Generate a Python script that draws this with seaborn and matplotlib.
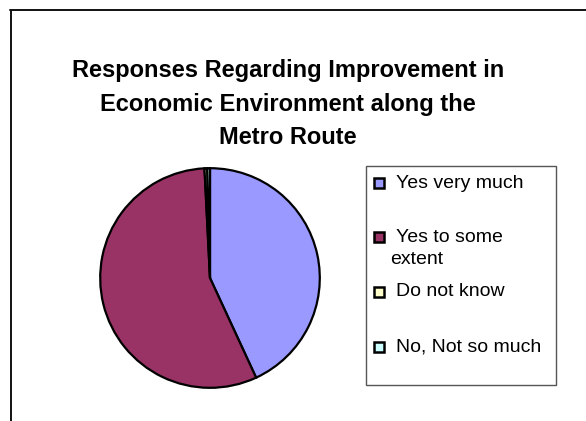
import matplotlib
matplotlib.use("Agg")
import matplotlib.pyplot as plt
import seaborn as sns
from matplotlib.lines import Line2D
from matplotlib.patches import Rectangle

# Survey responses (% of respondents)
categories = ["Yes very much", "Yes to some extent", "Do not know", "No, Not so much"]
legend_labels = ["Yes very much", "Yes to some\nextent", "Do not know", "No, Not so much"]
shares = [43.1, 56.1, 0.4, 0.4]
colors = ["#9999FF", "#993366", "#FFFFCC", "#CCFFFF"]
title_lines = ["Responses Regarding Improvement in",
               "Economic Environment along the",
               "Metro Route"]

sns.set_theme(style="white")
plt.rcParams["font.family"] = ["Liberation Sans", "DejaVu Sans"]

W, H = 586, 421
fig = plt.figure(figsize=(W / 100, H / 100), dpi=100)
fig.patch.set_facecolor("white")


def fx(px):
    return px / W


def fy(py):
    return 1 - py / H


# chart-area frame (left and top edges)
fig.add_artist(Line2D([fx(10.5), fx(10.5)], [fy(9.5), fy(H + 2)], color="#111111", lw=1.4))
fig.add_artist(Line2D([fx(10), fx(W + 2)], [fy(9.5), fy(9.5)], color="#111111", lw=1.4))

# title, one text per line
for i, line in enumerate(title_lines):
    fig.text(fx(288), fy(70 + 34 * i), line, ha="center", va="center", fontsize=17,
             fontweight="bold", color="black")

# pie
cx, cy, r = 210, 278, 112
ax = fig.add_axes([fx(cx - r), fy(cy + r), (2 * r) / W, (2 * r) / H])
pal = sns.color_palette(colors)
ax.pie(shares, colors=pal, startangle=90, counterclock=False,
       wedgeprops=dict(edgecolor="black", linewidth=1.6), radius=1.0)
ax.set_xlim(-1.02, 1.02)
ax.set_ylim(-1.02, 1.02)
ax.set_aspect("equal")
ax.axis("off")

# legend
bx0, by0, bx1, by1 = 366, 166, 556, 385
fig.add_artist(Rectangle((fx(bx0), fy(by1)), fx(bx1) - fx(bx0), fy(by0) - fy(by1),
                         transform=fig.transFigure, facecolor="white",
                         edgecolor="#555555", lw=1.0))
entry_y = [183, 237, 292, 347]
for lab, col, y in zip(legend_labels, colors, entry_y):
    s = 10
    fig.add_artist(Rectangle((fx(374), fy(y + s / 2)), s / W, s / H,
                             transform=fig.transFigure, facecolor=col,
                             edgecolor="black", lw=1.8))
    lines = lab.split("\n")
    fig.text(fx(396), fy(y), lines[0], ha="left", va="center", fontsize=14, color="black")
    if len(lines) > 1:
        fig.text(fx(390), fy(y + 23), lines[1], ha="left", va="center", fontsize=14,
                 color="black")

fig.savefig("out.png", dpi=100)
